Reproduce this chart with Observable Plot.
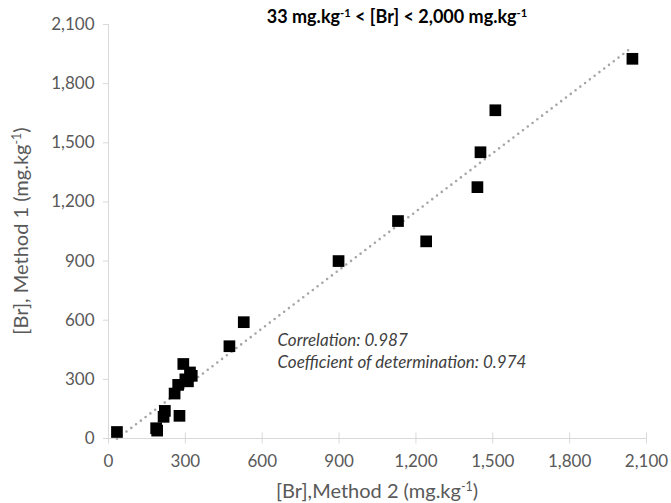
<!DOCTYPE html>
<html>
<head>
<meta charset="utf-8">
<script src="https://cdn.jsdelivr.net/npm/d3@7"></script>
<script src="https://cdn.jsdelivr.net/npm/@observablehq/plot@0.6"></script>
<style>
  html, body { margin: 0; padding: 0; background: #fff; }
  #wrap { position: relative; width: 671px; height: 503px; font-family: Lato, "Open Sans", sans-serif; }
  #wrap svg { position: absolute; left: 0; top: 0; }
  .title { position: absolute; top: 5px; left: 397px; transform: translateX(-50%); white-space: nowrap; font-weight: bold; font-size: 18px; color: #000; }
  .xlabel { position: absolute; top: 478px; left: 377px; transform: translateX(-50%); white-space: nowrap; font-size: 20px; color: #595959; }
  .ylabel { position: absolute; left: 20px; top: 231px; transform: translate(-50%, -50%) rotate(-90deg); white-space: nowrap; font-size: 20px; color: #595959; }
  sup { font-size: 0.62em; vertical-align: 0.55em; line-height: 0; }
</style>
</head>
<body>
<div id="wrap">
  <div class="title">33 mg.kg<sup>-1</sup> &lt; [Br] &lt; 2,000 mg.kg<sup>-1</sup></div>
  <div class="xlabel">[Br],Method 2 (mg.kg<sup>-1</sup>)</div>
  <div class="ylabel">[Br], Method 1 (mg.kg<sup>-1</sup>)</div>
</div>
<script>
// [Br] by Method 2 (x) and Method 1 (y), mg/kg
const method2 = [33, 186, 190, 220, 215, 277, 258, 272, 300, 310, 292, 318, 325, 472, 528, 898, 1130, 1240, 1440, 1452, 1510, 2045];
const method1 = [33, 52, 40, 140, 110, 115, 228, 272, 300, 290, 378, 335, 318, 468, 590, 900, 1103, 1000, 1275, 1452, 1665, 1926];
const axisTicks = [0, 300, 600, 900, 1200, 1500, 1800, 2100];
const annotationLines = ["Correlation: 0.987", "Coefficient of determination: 0.974"];

const data = method2.map((x, i) => ({x, y: method1[i]}));
const fmt = d3.format(",");
const axisColor = "#d9d9d9";
const labelColor = "#595959";

const chart = Plot.plot({
  width: 671,
  height: 503,
  marginLeft: 108,
  marginRight: 25,
  marginTop: 24,
  marginBottom: 65,
  style: {fontFamily: "Lato, 'Open Sans', sans-serif", fontSize: "17px", background: "transparent", overflow: "visible"},
  x: {domain: [0, 2100], ticks: axisTicks, tickFormat: fmt},
  y: {domain: [0, 2100], ticks: axisTicks, tickFormat: fmt},
  marks: [
    Plot.ruleX([0], {stroke: axisColor, strokeWidth: 1}),
    Plot.ruleY([0], {stroke: axisColor, strokeWidth: 1}),
    Plot.axisY({ticks: axisTicks, tickFormat: fmt, tickSize: 5, tickPadding: 9, stroke: axisColor, label: null, fill: labelColor, fontSize: 17}),
    Plot.axisX({ticks: axisTicks, text: null, tickSize: 11, dy: -5.5, stroke: axisColor, label: null}),
    Plot.axisX({ticks: axisTicks, tickFormat: fmt, tickSize: 0, tickPadding: 16, fill: labelColor, label: null, fontSize: 17}),
    Plot.linearRegressionY(data, {x: "x", y: "y", ci: 0, stroke: "#a6a6a6", strokeWidth: 2.6, strokeDasharray: "0,6", strokeLinecap: "round"}),
    Plot.dot(data, {x: "x", y: "y", symbol: "square", r: 6.6, fill: "#000", stroke: null}),
    Plot.text([annotationLines.join("\n")], {frameAnchor: "top-left", dx: 169, dy: 306, lineAnchor: "top", textAnchor: "start", fontStyle: "italic", fontSize: 17, fill: "#404040", lineHeight: 1.3})
  ]
});
document.getElementById("wrap").prepend(chart);
</script>
</body>
</html>
